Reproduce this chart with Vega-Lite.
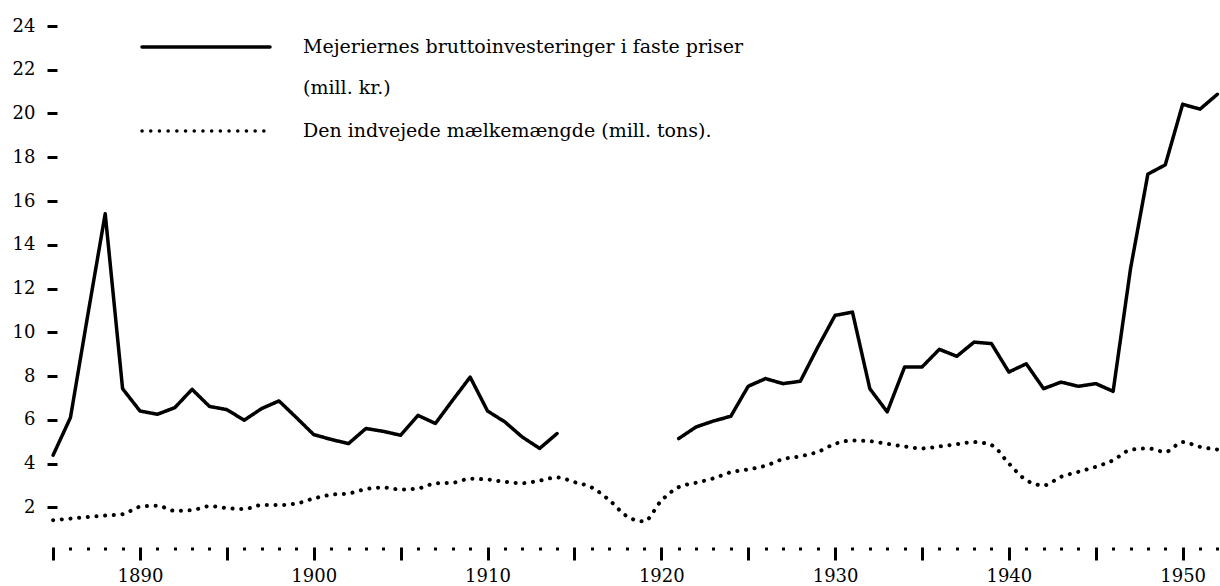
{
  "$schema": "https://vega.github.io/schema/vega-lite/v6.json",
  "width": 1173,
  "height": 525,
  "autosize": {"type": "none"},
  "padding": {"left": 47, "top": 26, "right": 0, "bottom": 35},
  "background": "white",
  "config": {"view": {"stroke": null}, "font": "DejaVu Serif"},
  "data": {"values": [
    {"year": 1885, "inv": 4.38, "milk": 1.41},
    {"year": 1886, "inv": 6.1, "milk": 1.48},
    {"year": 1887, "inv": 10.8, "milk": 1.55},
    {"year": 1888, "inv": 15.42, "milk": 1.62},
    {"year": 1889, "inv": 7.42, "milk": 1.68},
    {"year": 1890, "inv": 6.4, "milk": 2.02},
    {"year": 1891, "inv": 6.25, "milk": 2.07},
    {"year": 1892, "inv": 6.55, "milk": 1.84},
    {"year": 1893, "inv": 7.39, "milk": 1.87},
    {"year": 1894, "inv": 6.61, "milk": 2.05},
    {"year": 1895, "inv": 6.46, "milk": 1.96},
    {"year": 1896, "inv": 5.98, "milk": 1.92},
    {"year": 1897, "inv": 6.51, "milk": 2.1},
    {"year": 1898, "inv": 6.86, "milk": 2.1},
    {"year": 1899, "inv": 6.1, "milk": 2.17},
    {"year": 1900, "inv": 5.32, "milk": 2.4},
    {"year": 1901, "inv": 5.1, "milk": 2.57},
    {"year": 1902, "inv": 4.91, "milk": 2.63},
    {"year": 1903, "inv": 5.6, "milk": 2.83},
    {"year": 1904, "inv": 5.47, "milk": 2.9},
    {"year": 1905, "inv": 5.29, "milk": 2.81},
    {"year": 1906, "inv": 6.2, "milk": 2.86},
    {"year": 1907, "inv": 5.83, "milk": 3.09},
    {"year": 1908, "inv": 6.9, "milk": 3.12},
    {"year": 1909, "inv": 7.95, "milk": 3.3},
    {"year": 1910, "inv": 6.4, "milk": 3.27},
    {"year": 1911, "inv": 5.9, "milk": 3.16},
    {"year": 1912, "inv": 5.21, "milk": 3.1},
    {"year": 1913, "inv": 4.69, "milk": 3.22},
    {"year": 1914, "inv": 5.37, "milk": 3.36},
    {"year": 1915, "inv": null, "milk": 3.15},
    {"year": 1916, "inv": null, "milk": 2.9},
    {"year": 1917, "inv": null, "milk": 2.33},
    {"year": 1918, "inv": null, "milk": 1.6},
    {"year": 1919, "inv": null, "milk": 1.35},
    {"year": 1920, "inv": null, "milk": 2.3},
    {"year": 1921, "inv": 5.14, "milk": 2.92},
    {"year": 1922, "inv": 5.67, "milk": 3.12},
    {"year": 1923, "inv": 5.94, "milk": 3.32},
    {"year": 1924, "inv": 6.16, "milk": 3.6},
    {"year": 1925, "inv": 7.53, "milk": 3.73},
    {"year": 1926, "inv": 7.88, "milk": 3.9},
    {"year": 1927, "inv": 7.65, "milk": 4.2},
    {"year": 1928, "inv": 7.76, "milk": 4.33},
    {"year": 1929, "inv": 9.31, "milk": 4.53},
    {"year": 1930, "inv": 10.77, "milk": 4.9},
    {"year": 1931, "inv": 10.92, "milk": 5.05},
    {"year": 1932, "inv": 7.42, "milk": 5.02},
    {"year": 1933, "inv": 6.36, "milk": 4.9},
    {"year": 1934, "inv": 8.41, "milk": 4.78},
    {"year": 1935, "inv": 8.41, "milk": 4.69},
    {"year": 1936, "inv": 9.22, "milk": 4.78},
    {"year": 1937, "inv": 8.9, "milk": 4.88},
    {"year": 1938, "inv": 9.55, "milk": 4.98},
    {"year": 1939, "inv": 9.48, "milk": 4.84},
    {"year": 1940, "inv": 8.18, "milk": 4.0},
    {"year": 1941, "inv": 8.56, "milk": 3.24},
    {"year": 1942, "inv": 7.42, "milk": 3.0},
    {"year": 1943, "inv": 7.72, "milk": 3.39},
    {"year": 1944, "inv": 7.53, "milk": 3.62},
    {"year": 1945, "inv": 7.65, "milk": 3.85},
    {"year": 1946, "inv": 7.3, "milk": 4.15},
    {"year": 1947, "inv": 12.9, "milk": 4.62},
    {"year": 1948, "inv": 17.23, "milk": 4.69},
    {"year": 1949, "inv": 17.65, "milk": 4.53},
    {"year": 1950, "inv": 20.42, "milk": 4.98},
    {"year": 1951, "inv": 20.2, "milk": 4.76},
    {"year": 1952, "inv": 20.88, "milk": 4.64}
  ]},
  "transform": [{"fold": ["inv", "milk"], "as": ["series", "value"]}],
  "encoding": {
    "x": {
      "field": "year",
      "type": "quantitative",
      "scale": {"domain": [1884.65, 1952.15], "nice": false, "zero": false},
      "axis": {
        "values": [1885,1886,1887,1888,1889,1890,1891,1892,1893,1894,1895,1896,1897,1898,1899,1900,1901,1902,1903,1904,1905,1906,1907,1908,1909,1910,1911,1912,1913,1914,1915,1916,1917,1918,1919,1920,1921,1922,1923,1924,1925,1926,1927,1928,1929,1930,1931,1932,1933,1934,1935,1936,1937,1938,1939,1940,1941,1942,1943,1944,1945,1946,1947,1948,1949,1950,1951,1952],
        "format": "d",
        "labelExpr": "datum.value % 10 === 0 ? datum.label : ''",
        "labelOverlap": false,
        "labelFlush": false,
        "domain": false,
        "grid": false,
        "title": null,
        "offset": -4,
        "tickColor": "black",
        "tickWidth": 3,
        "tickSize": {"condition": {"test": "datum.value % 5 === 0", "value": 13}, "value": 3},
        "labelFont": "DejaVu Serif",
        "labelFontSize": 18,
        "labelColor": "black",
        "labelPadding": 7
      }
    },
    "y": {
      "field": "value",
      "type": "quantitative",
      "scale": {"domain": [0, 24], "nice": false},
      "axis": {
        "values": [2,4,6,8,10,12,14,16,18,20,22,24],
        "domain": false,
        "grid": false,
        "title": null,
        "offset": -10,
        "tickSize": 10,
        "tickWidth": 3,
        "tickColor": "black",
        "labelFont": "DejaVu Serif",
        "labelFontSize": 18,
        "labelColor": "black",
        "labelPadding": 12
      }
    },
    "strokeDash": {
      "field": "series",
      "type": "nominal",
      "scale": {"domain": ["inv", "milk"], "range": [[1, 0], [0.1, 8.6]]},
      "legend": {
        "orient": "none",
        "legendX": 141,
        "legendY": 3,
        "title": null,
        "direction": "vertical",
        "symbolType": "M-4,0H4",
        "symbolSize": 1024,
        "symbolStrokeWidth": 3.5,
        "symbolStrokeColor": "black",
        "symbolFillColor": "transparent",
        "labelFont": "DejaVu Serif",
        "labelFontSize": 19,
        "labelColor": "black",
        "labelLimit": 0,
        "labelOffset": 79,
        "rowPadding": 15,
        "labelExpr": "datum.value === 'inv' ? ['Mejeriernes bruttoinvesteringer i faste priser', '(mill. kr.)'] : 'Den indvejede mælkemængde (mill. tons).'",
        "encode": {
          "labels": {"update": {"lineHeight": {"value": 41}}},
          "symbols": {"update": {"strokeCap": {"value": "round"}}}
        }
      }
    }
  },
  "layer": [
    {
      "transform": [{"filter": "datum.series === 'inv'"}],
      "mark": {"type": "line", "color": "black", "strokeWidth": 3.5, "strokeCap": "round", "strokeJoin": "round", "interpolate": "linear", "invalid": "break-paths-show-domains"}
    },
    {
      "transform": [{"filter": "datum.series === 'milk'"}],
      "mark": {"type": "line", "color": "black", "strokeWidth": 4, "strokeCap": "round", "strokeJoin": "round", "interpolate": "monotone", "invalid": "break-paths-show-domains"}
    }
  ]
}
